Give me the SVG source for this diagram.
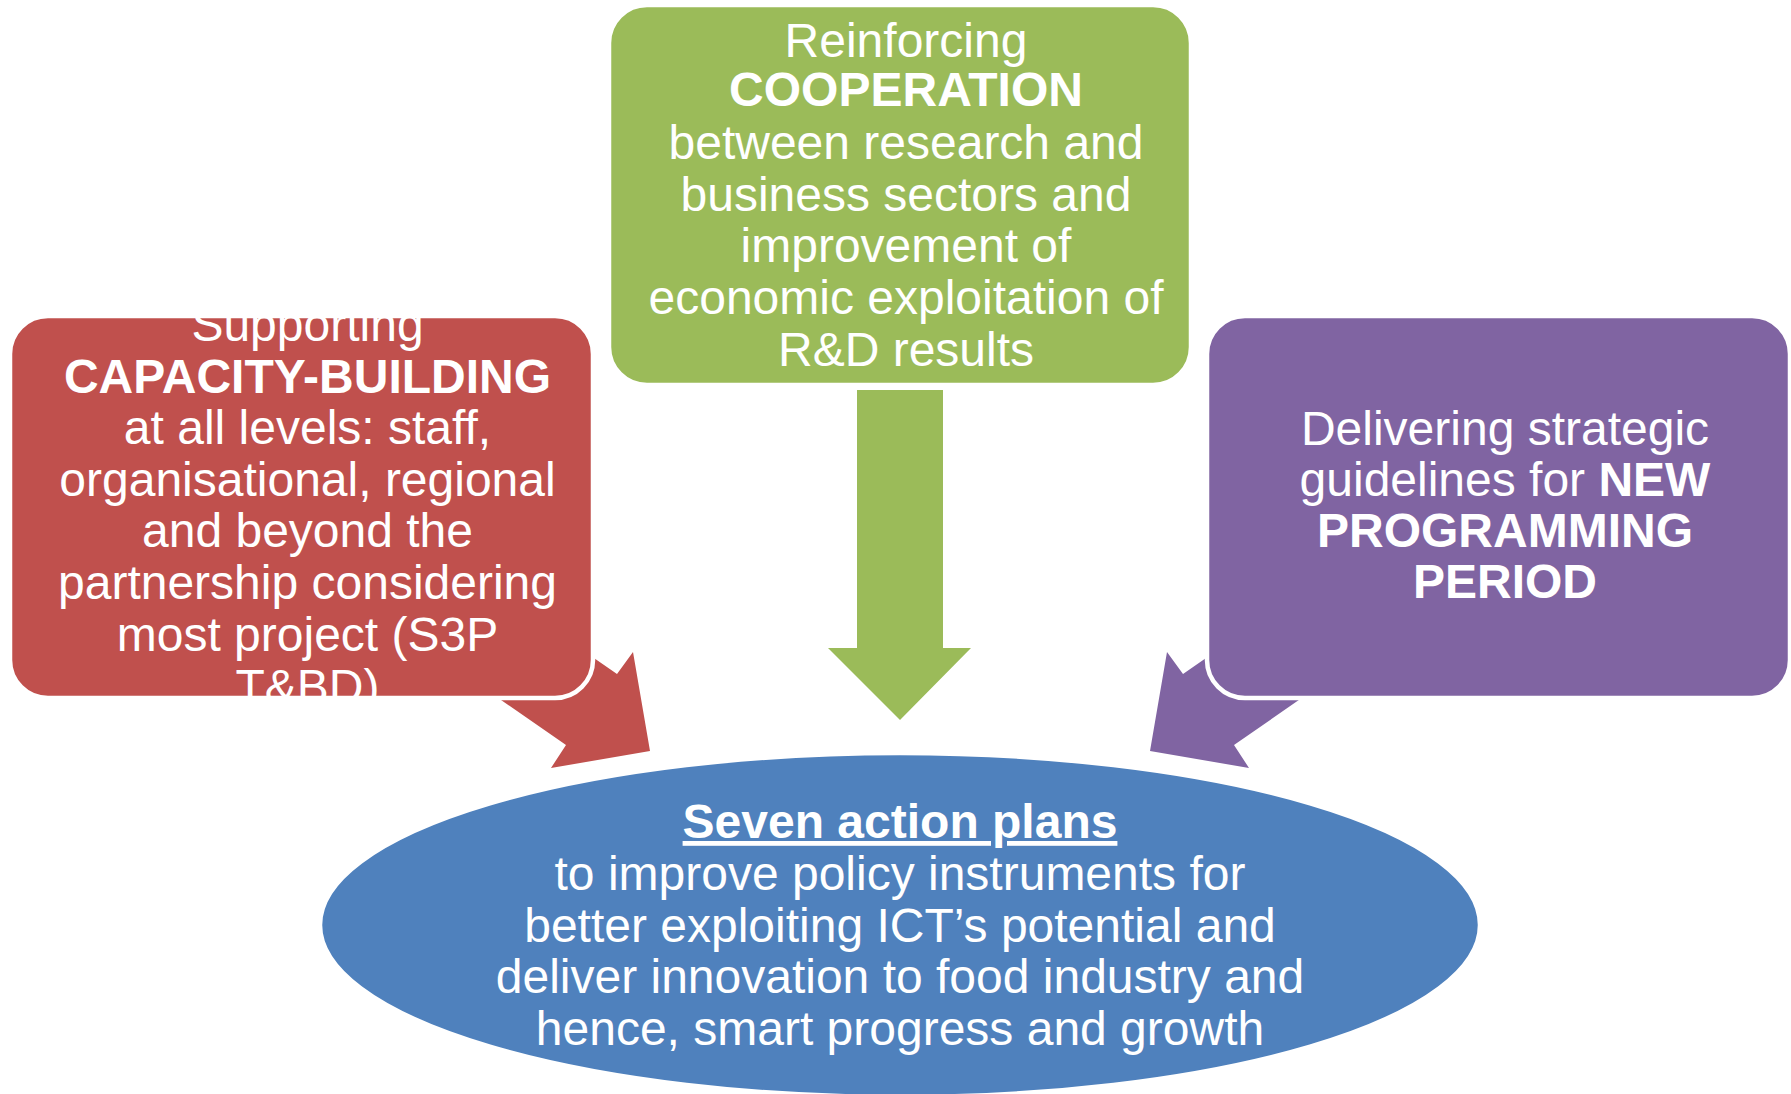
<svg xmlns="http://www.w3.org/2000/svg" width="1791" height="1094" viewBox="0 0 1791 1094">
  <style>
    .box { stroke: #FFFFFF; stroke-width: 4.5; }
    .red { fill: #C0504D; }
    .green { fill: #9BBB59; }
    .purple { fill: #8064A2; }
    .blue { fill: #4F81BD; }
    .t { font-family: "Liberation Sans", Arial, sans-serif; font-size: 48px; fill: #FFFFFF; text-anchor: middle; }
    .b { font-weight: bold; }
  </style>
  <defs>
    <clipPath id="clipRed">
      <rect x="12" y="318" width="579" height="378" rx="36" ry="36"/>
    </clipPath>
  </defs>
  <rect width="1791" height="1094" fill="#FFFFFF"/>

  <g id="connectors">
    <polygon id="arrow-red" class="red" points="493,588 617,674 633,652 650,751 551,768 566,745 442,659"/>
    <polygon id="arrow-green" class="green" points="857,390 943,390 943,648 971,648 900,720 828,648 857,648"/>
    <polygon id="arrow-purple" class="purple" points="1307,588 1183,674 1167,652 1150,751 1249,768 1234,745 1358,659"/>
  </g>

  <g id="node-capacity">
    <rect class="box red" x="10" y="316" width="583" height="382" rx="38" ry="38"/>
    <g clip-path="url(#clipRed)">
      <text class="t" x="307.5" y="341">Supporting</text>
      <text class="t b" x="307.5" y="393">CAPACITY-BUILDING</text>
      <text class="t" x="307.5" y="444">at all levels: staff,</text>
      <text class="t" x="307.5" y="496">organisational, regional</text>
      <text class="t" x="307.5" y="547">and beyond the</text>
      <text class="t" x="307.5" y="599">partnership considering</text>
      <text class="t" x="307.5" y="651">most project (S3P</text>
      <text class="t" x="307.5" y="703">T&amp;BD)</text>
    </g>
  </g>

  <g id="node-cooperation">
    <rect class="box green" x="609" y="5" width="582" height="380" rx="38" ry="38"/>
    <text class="t" x="906" y="57">Reinforcing</text>
    <text class="t b" x="906" y="106">COOPERATION</text>
    <text class="t" x="906" y="159">between research and</text>
    <text class="t" x="906" y="211">business sectors and</text>
    <text class="t" x="906" y="262">improvement of</text>
    <text class="t" x="906" y="314">economic exploitation of</text>
    <text class="t" x="906" y="366">R&amp;D results</text>
  </g>

  <g id="node-programming">
    <rect class="box purple" x="1207" y="316" width="583" height="382" rx="38" ry="38"/>
    <text class="t" x="1505" y="445">Delivering strategic</text>
    <text class="t" x="1505" y="496">guidelines for <tspan class="b">NEW</tspan></text>
    <text class="t b" x="1505" y="547">PROGRAMMING</text>
    <text class="t b" x="1505" y="598">PERIOD</text>
  </g>

  <g id="node-action-plans">
    <ellipse class="box blue" cx="900" cy="925" rx="580" ry="172"/>
    <text class="t b" x="900" y="838" text-decoration="underline">Seven action plans</text>
    <text class="t" x="900" y="890">to improve policy instruments for</text>
    <text class="t" x="900" y="942">better exploiting ICT’s potential and</text>
    <text class="t" x="900" y="993">deliver innovation to food industry and</text>
    <text class="t" x="900" y="1045">hence, smart progress and growth</text>
  </g>
</svg>
